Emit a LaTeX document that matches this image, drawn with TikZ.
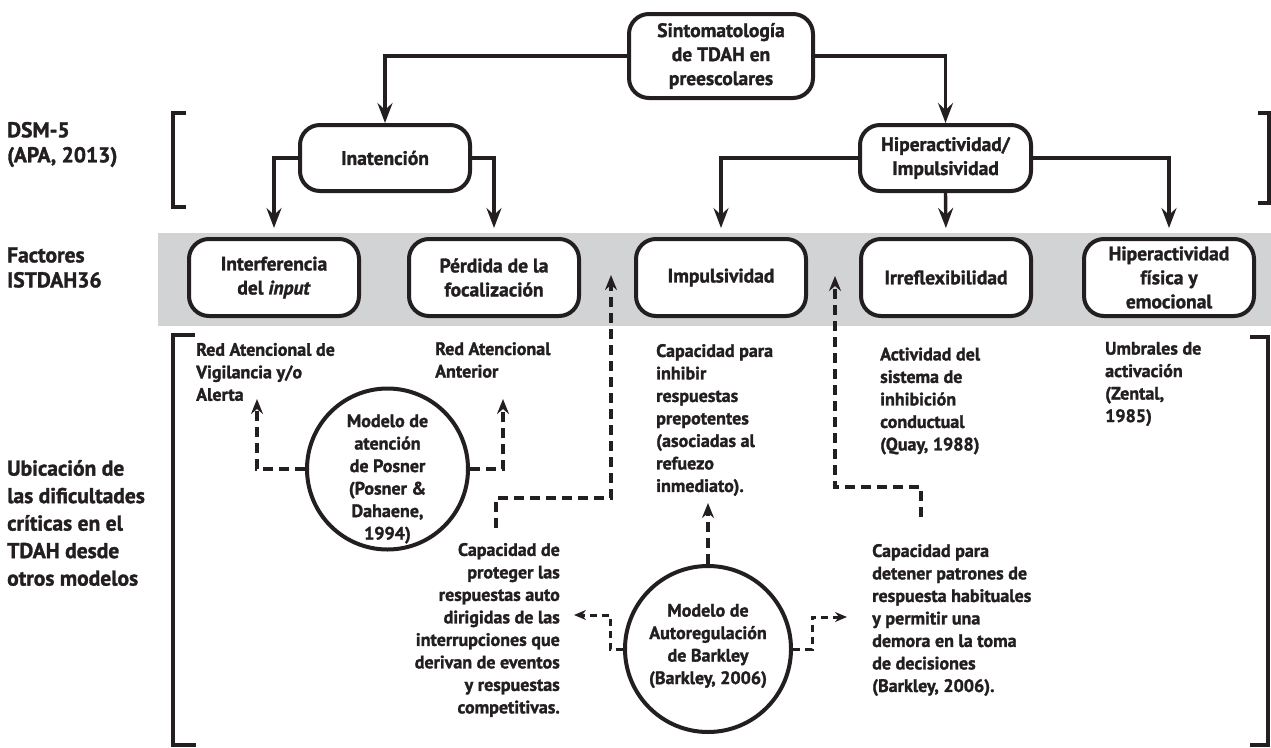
\documentclass[tikz,border=0pt]{standalone}
\usepackage{fontspec}
\setmainfont{PT Sans}[BoldFeatures={FakeBold=1.5}, BoldItalicFeatures={FakeBold=1.5}]
\usetikzlibrary{arrows.meta,calc}
\definecolor{ink}{HTML}{231F20}
\definecolor{bandgray}{HTML}{D1D3D4}
\begin{document}
\begin{tikzpicture}[x=1pt,y=-1pt,
  txt/.style={font=\bfseries\fontsize{18}{22.5}\selectfont, text=ink, inner sep=0pt},
  big/.style={font=\bfseries\fontsize{21.5}{25}\selectfont},
  box/.style={txt, font=\bfseries\fontsize{19.5}{24}\selectfont, draw=ink, line width=4pt, rounded corners=20pt, fill=white, align=center, minimum width=170pt, minimum height=77pt},
  circ/.style={draw=ink, line width=4pt, circle, fill=white, inner sep=0pt},
  conn/.style={draw=ink, line width=3.4pt, -{Stealth[length=20pt,width=15pt,inset=7pt]}},
  dconn/.style={draw=ink, line width=3.6pt, dash pattern=on 10pt off 6pt, -{Stealth[length=15pt,width=12pt,inset=5pt]}},
  dconns/.style={draw=ink, line width=3pt, dash pattern=on 7pt off 5pt, -{Stealth[length=12pt,width=10pt,inset=4pt]}},
  brk/.style={draw=ink, line width=3.5pt},
  lft/.style={txt, align=left, anchor=west},
  rgt/.style={txt, align=right, anchor=east},
  ctr/.style={txt, align=center}]
\useasboundingbox (0,0) rectangle (1271,747);
\fill[bandgray] (158,233) rectangle (1271,326);

% left labels
\node[lft, big] (dsm) at (7,144.5) {DSM-5\\(APA, 2013)};
\node[lft, big] (fac) at (7,267.5) {Factores\\ISTDAH36};
\node[lft, big, font=\bfseries\fontsize{21.5}{27.5}\selectfont] (ubi) at (7,523) {Ubicación de\\las dificultades\\críticas en el\\TDAH desde\\otros modelos};

% brackets
\draw[brk] (186,113) -- (173,113) -- (173,207) -- (186,207);
\draw[brk] (1258,113) -- (1269,113) -- (1269,203) -- (1258,203);
\draw[brk] (195,335) -- (173,335) -- (173,745) -- (196,745);
\draw[brk] (1250,337) -- (1268,337) -- (1268,745) -- (1250,745);

% main boxes
\node[box, minimum width=184pt, minimum height=84pt] (T) at (721,56) {Sintomatología\\de TDAH en\\preescolares};
\node[box, minimum width=170pt, minimum height=66pt] (I) at (385,158) {Inatención};
\node[box, minimum width=171pt, minimum height=66pt] (H) at (945.5,158) {Hiperactividad/\\Impulsividad};

\node[box] (F1) at (274,277.5) {Interferencia\\del \textit{input}};
\node[box] (F2) at (494,277.5) {Pérdida de la\\focalización};
\node[box] (F3) at (721,277.5) {Impulsividad};
\node[box] (F4) at (946,277.5) {Irreflexibilidad};
\node[box] (F5) at (1169,277.5) {Hiperactividad\\física y\\emocional};

% solid connectors
\draw[conn] (T.west) -| (I.north);
\draw[conn] (T.east) -| (H.north);
\draw[conn, shorten >=9pt] (I.west) -| (F1.north);
\draw[conn, shorten >=9pt] (I.east) -| (F2.north);
\draw[conn, shorten >=9pt] (H.west) -| (F3.north);
\draw[conn, shorten >=9pt] (H.south) -- (F4.north);
\draw[conn, shorten >=9pt] (H.east) -| (F5.north);

% lower texts
\node[lft] (redv) at (196,372) {Red Atencional de\\Vigilancia y/o\\Alerta};
\node[lft] (reda) at (435,360) {Red Atencional\\Anterior};
\node[lft] (capinh) at (656,420) {Capacidad para\\inhibir\\respuestas\\prepotentes\\(asociadas al\\refuezo\\inmediato).};
\node[lft] (activ) at (880,401) {Actividad del\\sistema de\\inhibición\\conductual\\(Quay, 1988)};
\node[lft] (umbr) at (1105,384) {Umbrales de\\activación\\(Zental,\\1985)};
\node[rgt] (capprot) at (560,630) {Capacidad de\\proteger las\\respuestas auto\\dirigidas de las\\interrupciones que\\derivan de eventos\\y respuestas\\competitivas.};
\node[lft] (capdet) at (872,620) {Capacidad para\\detener patrones de\\respuesta habituales\\y permitir una\\demora en la toma\\de decisiones\\(Barkley, 2006).};

% circles
\node[circ, minimum size=161pt] (P) at (387.5,469) {};
\node[ctr] (ptext) at (387.5,479) {Modelo de\\atención\\de Posner\\(Posner \&\\Dahaene,\\1994)};
\node[circ, minimum size=166pt] (B) at (708,649) {};
\node[ctr] (btext) at (708,646) {Modelo de\\Autoregulación\\de Barkley\\(Barkley, 2006)};

% dashed connectors
\coordinate (pl) at (257,399);
\coordinate (pr) at (503,399);
\draw[dconn] (P.west) -| (pl);
\draw[dconn] (P.east) -| (pr);

\coordinate (q0) at (496,528);
\coordinate (q1) at (611,275);
\draw[dconn] (q0) -- ++(0,-30) -| (q1);

\coordinate (r0) at (921,517);
\coordinate (r1) at (835,276);
\draw[dconn] (r0) -- ++(0,-30) -| (r1);

\coordinate (bt) at (708,503);
\draw[dconn] (B.north) -- (bt);
\coordinate (bl) at (574,615);
\draw[dconns] (B.west) -- ++(-13,0) |- (bl);
\coordinate (br) at (847,617);
\draw[dconns] (B.east) -- ++(19,0) |- (br);
\end{tikzpicture}
\end{document}
